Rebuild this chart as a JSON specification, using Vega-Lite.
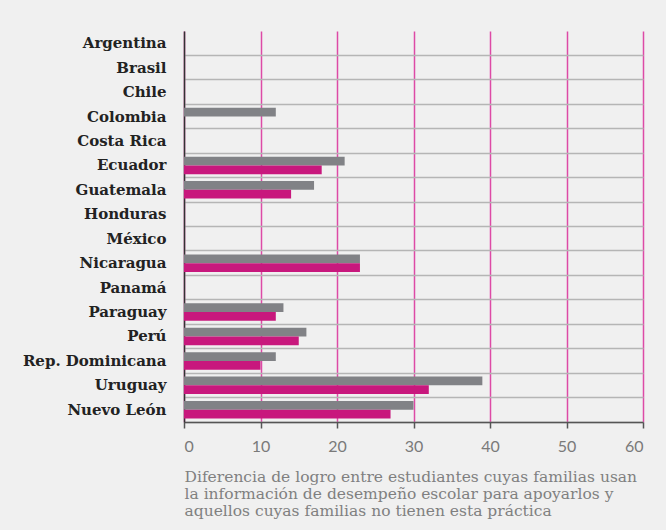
{
  "$schema": "https://vega.github.io/schema/vega-lite/v6.json",
  "autosize": {"type": "none"},
  "width": 459,
  "height": 391,
  "padding": {"left": 184, "top": 31, "right": 23, "bottom": 108},
  "background": "#f0f0f0",
  "config": {"view": {"stroke": null}},
  "data": {
    "values": [
      {"pais": "Colombia", "serie": "A", "valor": 12},
      {"pais": "Ecuador", "serie": "A", "valor": 21},
      {"pais": "Ecuador", "serie": "B", "valor": 18},
      {"pais": "Guatemala", "serie": "A", "valor": 17},
      {"pais": "Guatemala", "serie": "B", "valor": 14},
      {"pais": "Nicaragua", "serie": "A", "valor": 23},
      {"pais": "Nicaragua", "serie": "B", "valor": 23},
      {"pais": "Paraguay", "serie": "A", "valor": 13},
      {"pais": "Paraguay", "serie": "B", "valor": 12},
      {"pais": "Perú", "serie": "A", "valor": 16},
      {"pais": "Perú", "serie": "B", "valor": 15},
      {"pais": "Rep. Dominicana", "serie": "A", "valor": 12},
      {"pais": "Rep. Dominicana", "serie": "B", "valor": 10},
      {"pais": "Uruguay", "serie": "A", "valor": 39},
      {"pais": "Uruguay", "serie": "B", "valor": 32},
      {"pais": "Nuevo León", "serie": "A", "valor": 30},
      {"pais": "Nuevo León", "serie": "B", "valor": 27}
    ]
  },
  "layer": [
    {
      "mark": {"type": "bar", "opacity": 0},
      "encoding": {
        "y": {
          "field": "pais", "type": "nominal",
          "scale": {"domain": ["Argentina", "Brasil", "Chile", "Colombia", "Costa Rica", "Ecuador", "Guatemala", "Honduras", "México", "Nicaragua", "Panamá", "Paraguay", "Perú", "Rep. Dominicana", "Uruguay", "Nuevo León"], "paddingInner": 0, "paddingOuter": 0},
          "axis": {"orient": "right", "title": null, "labels": false, "ticks": false, "domain": false, "grid": true, "bandPosition": 1, "gridColor": "#b5b5b5", "gridWidth": 1.5}
        },
        "x": {"field": "valor", "type": "quantitative"}
      }
    },
    {
      "mark": {"type": "bar", "yOffset": 1.5},
      "encoding": {
        "y": {
          "field": "pais", "type": "nominal",
          "axis": {"orient": "left", "title": null, "grid": false, "ticks": false, "domainColor": "#333333", "domainWidth": 1.5, "labelFont": "DejaVu Serif", "labelFontWeight": "bold", "labelFontSize": 15, "labelColor": "#222222", "labelPadding": 18}
        },
        "yOffset": {"field": "serie", "type": "nominal", "scale": {"paddingInner": 0, "paddingOuter": 0.4}},
        "x": {
          "field": "valor", "type": "quantitative",
          "scale": {"domain": [0, 60], "nice": false},
          "axis": {
            "values": [0, 10, 20, 30, 40, 50, 60],
            "grid": true, "gridColor": "#dd4aa6", "gridWidth": 1.5,
            "domainColor": "#555555", "domainWidth": 1.5,
            "tickColor": "#555555", "tickSize": 6, "tickWidth": 1.5,
            "labelFont": "Lato", "labelFontSize": 16, "labelColor": "#7a7a7a", "labelPadding": 10,
            "title": ["Diferencia de logro entre estudiantes cuyas familias usan", "la información de desempeño escolar para apoyarlos y", "aquellos cuyas familias no tienen esta práctica"],
            "titleFont": "DejaVu Serif", "titleFontWeight": "normal", "titleFontSize": 15.5, "titleColor": "#808080",
            "titleAnchor": "start", "titleAlign": "left", "titleLineHeight": 17, "titlePadding": 15
          }
        },
        "color": {
          "field": "serie", "type": "nominal",
          "scale": {"domain": ["A", "B"], "range": ["#818286", "#c8187d"]},
          "legend": null
        }
      }
    }
  ],
  "resolve": {"axis": {"y": "independent"}}
}
